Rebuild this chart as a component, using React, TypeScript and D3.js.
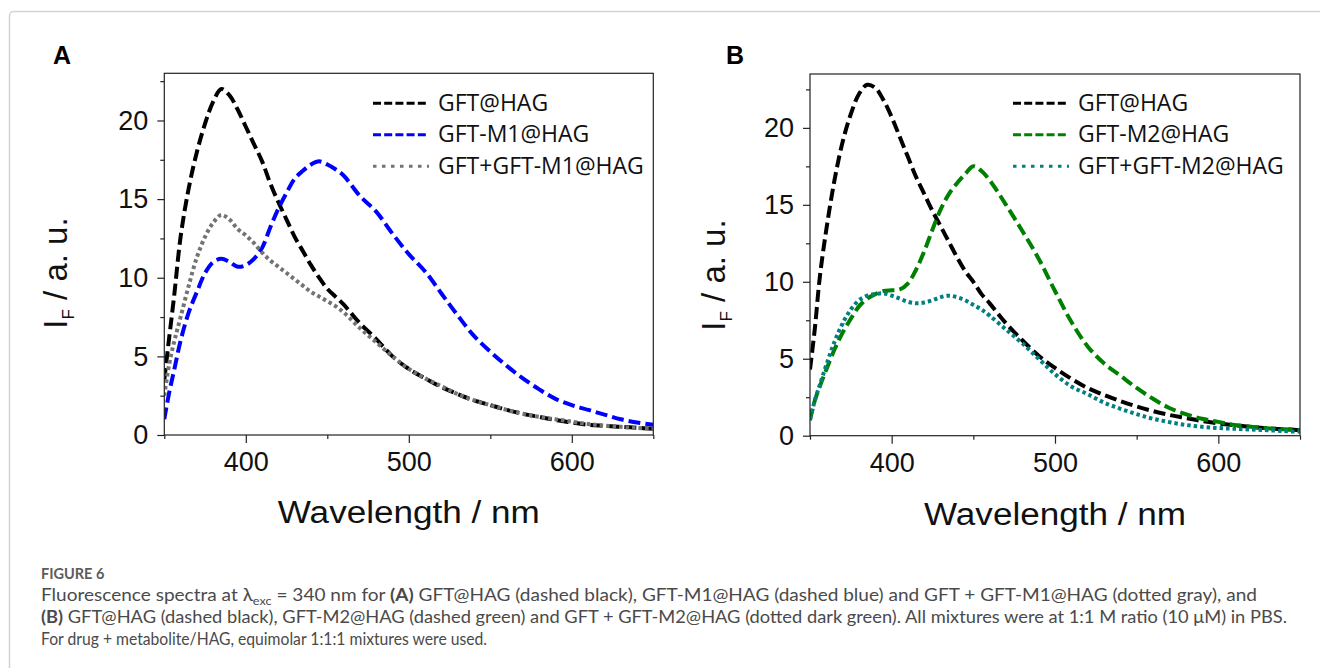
import { useEffect, useRef } from 'react'
import * as d3 from 'd3'

const WAVELENGTH = [
  350, 353, 356, 360, 365, 370, 375, 380, 385, 390, 395, 400, 405, 410, 415, 420, 425, 430, 435, 440, 445, 450,
  455, 460, 470, 480, 490, 500, 510, 520, 530, 540, 550, 560, 570, 580, 590, 600, 610, 620, 630, 640, 650,
]

// panel A
const A_GFT = [
  3.5, 6.2, 8.8, 12.6, 15.7, 18.0, 19.8, 21.2, 22.0, 21.6, 20.7, 19.6, 18.5, 17.4, 16.0, 14.8, 13.7, 12.6, 11.7, 10.8,
  10.0, 9.3, 8.8, 8.3, 7.1, 6.1, 5.0, 4.2, 3.6, 3.05, 2.6, 2.2, 1.9, 1.6, 1.35, 1.15, 0.95, 0.8, 0.65, 0.58, 0.52, 0.46,
  0.4,
]
const A_M1 = [
  1.0, 2.7, 4.1, 6.0, 7.8, 9.1, 10.3, 11.0, 11.2, 11.0, 10.7, 10.8, 11.2, 11.9, 13.2, 14.4, 15.4, 16.3, 16.8, 17.2,
  17.4, 17.2, 16.9, 16.5, 15.2, 14.2, 12.8, 11.5, 10.4, 9.0, 7.6, 6.3, 5.3, 4.4, 3.6, 2.9, 2.3, 1.9, 1.6, 1.3, 1.0, 0.8,
  0.65,
]
const A_MIX = [
  2.5, 4.5, 5.9, 7.5, 9.5, 11.3, 12.6, 13.5, 14.0, 13.7, 13.1, 12.7, 12.2, 11.6, 11.1, 10.7, 10.3, 9.9, 9.5, 9.1, 8.8,
  8.5, 8.2, 7.8, 6.8, 5.9, 5.0, 4.2, 3.6, 3.1, 2.6, 2.2, 1.9, 1.6, 1.35, 1.15, 1.0, 0.85, 0.7, 0.6, 0.52, 0.45, 0.4,
]

// panel B
const B_GFT = [
  4.3, 7.0, 10.3, 13.4, 16.6, 19.1, 20.9, 22.2, 22.8, 22.6, 21.8, 20.7, 19.4, 18.1, 16.8, 15.7, 14.6, 13.6, 12.6, 11.6,
  10.7, 10.0, 9.2, 8.6, 7.3, 6.2, 5.2, 4.4, 3.7, 3.1, 2.65, 2.25, 1.9, 1.6, 1.35, 1.15, 0.95, 0.8, 0.68, 0.57, 0.48,
  0.42, 0.36,
]
const B_M2 = [
  1.0, 2.3, 3.2, 4.3, 5.6, 6.7, 7.6, 8.4, 8.9, 9.2, 9.4, 9.45, 9.5, 9.9, 10.8, 12.0, 13.4, 14.7, 15.7, 16.4, 17.0, 17.5,
  17.2, 16.6, 15.0, 13.3, 11.5, 9.4, 7.4, 5.8, 4.7, 3.9, 3.1, 2.4, 1.8, 1.4, 1.1, 0.9, 0.7, 0.58, 0.48, 0.42, 0.36,
]
const B_MIX = [
  1.1, 2.3, 3.3, 4.6, 6.1, 7.3, 8.2, 8.8, 9.1, 9.2, 9.25, 9.1, 8.9, 8.7, 8.6, 8.65, 8.8, 9.0, 9.1, 9.0, 8.8, 8.5, 8.2,
  7.8, 6.9, 6.0, 5.0, 4.0, 3.2, 2.7, 2.15, 1.75, 1.4, 1.1, 0.88, 0.7, 0.58, 0.5, 0.45, 0.4, 0.36, 0.3, 0.26,
]

const X_MAJOR = [400, 500, 600]
const X_MINOR = [350, 450, 550, 650]
const Y_MAJOR = [0, 5, 10, 15, 20]
const Y_MINOR = [2.5, 7.5, 12.5, 17.5, 22.5]
const LEGEND_A = ['GFT@HAG', 'GFT-M1@HAG', 'GFT+GFT-M1@HAG']
const LEGEND_B = ['GFT@HAG', 'GFT-M2@HAG', 'GFT+GFT-M2@HAG']

const DASH = '12,5'
const DOT = '3.5,3'
const AXIS_FONT = '"Liberation Sans", Arial, sans-serif'

const panels = [
  {
    id: 'A',
    left: 164.3, right: 653.3, top: 73.3, bottom: 435, yMax: 23,
    letterX: 53, ylabX: 67, ylabY: 273, titleY: 523,
    legendX: 373, legendY: 103.3,
    series: [
      { name: LEGEND_A[0], values: A_GFT, color: '#000000', dash: DASH },
      { name: LEGEND_A[1], values: A_M1, color: '#0000ff', dash: DASH },
      { name: LEGEND_A[2], values: A_MIX, color: '#737373', dash: DOT },
    ],
  },
  {
    id: 'B',
    left: 810, right: 1300, top: 74, bottom: 435.7, yMax: 23.5,
    letterX: 726, ylabX: 725, ylabY: 275, titleY: 525,
    legendX: 1013, legendY: 103.3,
    series: [
      { name: LEGEND_B[0], values: B_GFT, color: '#000000', dash: DASH },
      { name: LEGEND_B[1], values: B_M2, color: '#008000', dash: DASH },
      { name: LEGEND_B[2], values: B_MIX, color: '#008080', dash: DOT },
    ],
  },
]

function drawPanel(svg: any, p: any) {
  const x = d3.scaleLinear().domain([350, 650]).range([p.left, p.right])
  const y = d3.scaleLinear().domain([0, p.yMax]).range([p.bottom, p.top])
  const g = svg.append('g')

  g.append('clipPath').attr('id', 'clip' + p.id)
    .append('rect')
    .attr('x', p.left).attr('y', p.top)
    .attr('width', p.right - p.left).attr('height', p.bottom - p.top)

  const line = d3.line<number>()
    .x((_, i) => x(WAVELENGTH[i]))
    .y((d) => y(d))
    .curve(d3.curveCatmullRom.alpha(0.5))

  g.append('g').attr('clip-path', `url(#clip${p.id})`)
    .selectAll('path')
    .data(p.series)
    .enter()
    .append('path')
    .attr('d', (d: any) => line(d.values))
    .attr('fill', 'none')
    .attr('stroke', (d: any) => d.color)
    .attr('stroke-width', 4)
    .attr('stroke-dasharray', (d: any) => d.dash)

  // axes
  const styleAxis = (sel: any) => {
    sel.select('.domain').remove()
    sel.selectAll('line').attr('stroke', '#222').attr('stroke-width', 1.2)
    sel.selectAll('text').attr('font-family', AXIS_FONT).attr('font-size', 27).attr('fill', '#111')
  }
  g.append('g').attr('transform', `translate(0,${p.bottom})`)
    .call(d3.axisBottom(x).tickValues(X_MAJOR).tickSize(8).tickPadding(9).tickFormat(d3.format('d')))
    .call(styleAxis)
  g.append('g').attr('transform', `translate(0,${p.bottom})`)
    .call(d3.axisBottom(x).tickValues(X_MINOR).tickSize(4).tickFormat(() => ''))
    .call(styleAxis)
  g.append('g').attr('transform', `translate(${p.left},0)`)
    .call(d3.axisLeft(y).tickValues(Y_MAJOR).tickSize(7).tickPadding(9).tickFormat(d3.format('d')))
    .call(styleAxis)
  g.append('g').attr('transform', `translate(${p.left},0)`)
    .call(d3.axisLeft(y).tickValues(Y_MINOR).tickSize(4).tickFormat(() => ''))
    .call(styleAxis)

  g.append('rect')
    .attr('x', p.left).attr('y', p.top)
    .attr('width', p.right - p.left).attr('height', p.bottom - p.top)
    .attr('fill', 'none').attr('stroke', '#222').attr('stroke-width', 1.2)

  // axis titles
  g.append('text')
    .attr('x', (p.left + p.right) / 2).attr('y', p.titleY)
    .attr('text-anchor', 'middle')
    .attr('font-family', AXIS_FONT).attr('font-size', 31)
    .attr('textLength', 262).attr('lengthAdjust', 'spacingAndGlyphs')
    .attr('fill', '#111')
    .text('Wavelength / nm')

  const yl = g.append('text')
    .attr('transform', `translate(${p.ylabX},${p.ylabY}) rotate(-90)`)
    .attr('text-anchor', 'middle')
    .attr('font-family', AXIS_FONT).attr('font-size', 33)
    .attr('fill', '#111')
  yl.append('tspan').text('I')
  yl.append('tspan').attr('font-size', 17).attr('dy', 7).text('F')
  yl.append('tspan').attr('dy', -7).text(' / a. u.')

  // panel letter
  g.append('text')
    .attr('x', p.letterX).attr('y', 64)
    .attr('font-family', AXIS_FONT).attr('font-weight', 'bold').attr('font-size', 25)
    .attr('fill', '#000')
    .text(p.id)

  // legend
  const lg = g.append('g')
  p.series.forEach((s: any, i: number) => {
    const ly = p.legendY + i * 31.5
    lg.append('line')
      .attr('x1', p.legendX).attr('x2', p.legendX + 56)
      .attr('y1', ly).attr('y2', ly)
      .attr('stroke', s.color).attr('stroke-width', 3)
      .attr('stroke-dasharray', s.dash === DOT ? '3.5,5.5' : '8,3.2')
    lg.append('text')
      .attr('x', p.legendX + 65).attr('y', ly + 7.6)
      .attr('font-family', '"Open Sans", sans-serif').attr('font-size', 23)
      .attr('fill', '#111')
      .text(s.name)
  })
}

export default function App() {
  const ref = useRef<SVGSVGElement>(null)

  useEffect(() => {
    const svg = d3.select(ref.current)
    svg.selectAll('*').remove()

    svg.append('rect')
      .attr('x', 9.5).attr('y', 11.5)
      .attr('width', 1400).attr('height', 1000).attr('rx', 4)
      .attr('fill', 'none').attr('stroke', '#d2d2d2').attr('stroke-width', 1.5)

    panels.forEach((p) => drawPanel(svg, p))

    const cx = 41
    const cap = svg.append('g').attr('font-family', 'Lato, "Open Sans", sans-serif').attr('fill', '#4a4a4a')
    cap.append('text')
      .attr('x', cx).attr('y', 579)
      .attr('font-size', 14.5).attr('font-weight', 'bold').attr('fill', '#5c5c5c')
      .text('FIGURE 6')

    const l1 = cap.append('text').attr('x', cx).attr('y', 601).attr('font-size', 16.5)
      .attr('textLength', 1216).attr('lengthAdjust', 'spacingAndGlyphs')
    l1.append('tspan').text('Fluorescence spectra at λ')
    l1.append('tspan').attr('font-size', 11).attr('dy', 4).text('exc')
    l1.append('tspan').attr('dy', -4).text(' = 340 nm for ')
    l1.append('tspan').attr('font-weight', 'bold').text('(A)')
    l1.append('tspan').text(' GFT@HAG (dashed black), GFT-M1@HAG (dashed blue) and GFT + GFT-M1@HAG (dotted gray), and')

    const l2 = cap.append('text').attr('x', cx).attr('y', 623).attr('font-size', 16.5)
      .attr('textLength', 1246).attr('lengthAdjust', 'spacingAndGlyphs')
    l2.append('tspan').attr('font-weight', 'bold').text('(B)')
    l2.append('tspan').text(' GFT@HAG (dashed black), GFT-M2@HAG (dashed green) and GFT + GFT-M2@HAG (dotted dark green). All mixtures were at 1:1 M ratio (10 μM) in PBS.')

    cap.append('text').attr('x', cx).attr('y', 645).attr('font-size', 16.5)
      .attr('textLength', 446).attr('lengthAdjust', 'spacingAndGlyphs')
      .text('For drug + metabolite/HAG, equimolar 1:1:1 mixtures were used.')
  }, [])

  return (
    <div>
      <style>{'body{margin:0;background:#fff}'}</style>
      <svg ref={ref} width={1320} height={668} viewBox="0 0 1320 668" style={{ display: 'block' }} />
    </div>
  )
}
